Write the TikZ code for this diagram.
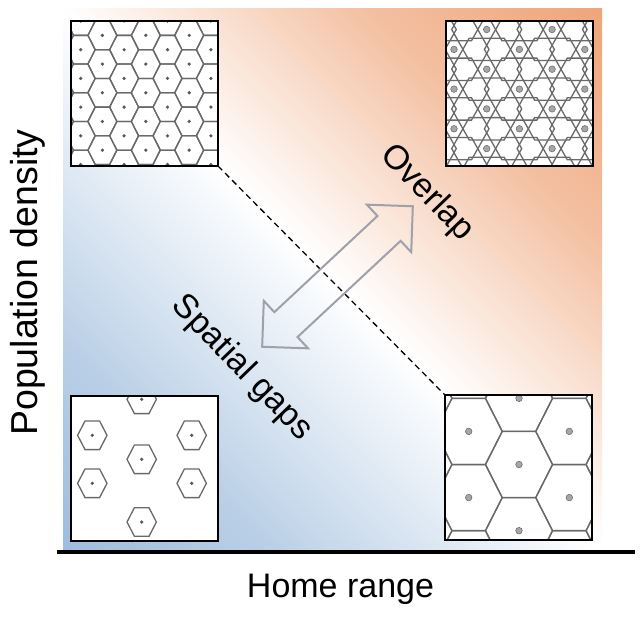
\documentclass[tikz,border=0pt]{standalone}
\usepackage{fontspec}
\setmainfont{Liberation Sans}
\usepackage{tikz}
\usetikzlibrary{shapes.arrows}

\definecolor{bgorange}{RGB}{234,140,84}
\definecolor{bgblue}{RGB}{128,168,210}
\definecolor{celline}{RGB}{105,105,105}
\definecolor{arrowgray}{RGB}{160,160,170}

\pgfdeclareverticalshading{bggrad}{100bp}{color(0bp)=(bgblue); color(28bp)=(bgblue!55!white);
	color(50bp)=(white); color(70bp)=(bgorange!55!white); color(100bp)=(bgorange)}

\begin{document}
\begin{tikzpicture}[x=1pt, y=-1pt,
		box/.style={fill=white, minimum width=147, minimum height=145, inner sep=0, outer sep=0},
		frame/.style={draw=black, line width=2.4},
		cell/.style={draw=celline, line width=1.3},
		smalldot/.style={fill=black!65},
		bigdot/.style={fill=gray!70, draw=gray!80!black, line width=0.5},
		lbl/.style={font=\fontsize{34}{40}\selectfont, inner sep=0}]
		\useasboundingbox (0,0) rectangle (640,616);
		% background gradient and axis
		\shade[shading=bggrad, shading angle=-45] (63,8) rectangle (602,550);
		\draw[line width=4.5] (57,552) -- (635,552);

		% the four panels
		\node[box] (tl) at (144.5,93.5) {};
		\node[box] (tr) at (519.5,93.5) {};
		\node[box] (bl) at (144.5,468.5) {};
		\node[box] (br) at (518.5,467.5) {};

		% high density, small range: tiling of small cells
		\begin{scope}
			\clip (tl.north west) rectangle (tl.south east);
			\begin{scope}[shift={(tl.north west)}]
				\def\R{14.47} \def\a{7.23} \def\h{14.35}
				\foreach \i in {-1,...,7}
				\foreach \j in {-1,...,5} {
					\pgfmathsetmacro\cx{9.7+21.7*\i}
					\pgfmathsetmacro\cy{28.7*\j+14.35*mod(\i+2,2)}
					\draw[cell] ({\cx+\R},\cy) -- ({\cx+\a},{\cy+\h}) -- ({\cx-\a},{\cy+\h})
						-- ({\cx-\R},\cy) -- ({\cx-\a},{\cy-\h}) -- ({\cx+\a},{\cy-\h}) -- cycle;
					\fill[smalldot] (\cx,\cy) circle (1.8);
				}
			\end{scope}
		\end{scope}

		% high density, large range: overlapping cells
		\begin{scope}
			\clip (tr.north west) rectangle (tr.south east);
			\begin{scope}[shift={(tr.north west)}]
				\def\R{35} \def\a{17.5} \def\h{31}
				\foreach \i in {-1,...,5}
				\foreach \j in {-1,...,4} {
					\pgfmathsetmacro\cx{8+32.7*\i}
					\pgfmathsetmacro\cy{28.4+39.7*\j-19.9*mod(\i+2,2)}
					\draw[cell] ({\cx+\R},\cy) -- ({\cx+\a},{\cy+\h}) -- ({\cx-\a},{\cy+\h})
						-- ({\cx-\R},\cy) -- ({\cx-\a},{\cy-\h}) -- ({\cx+\a},{\cy-\h}) -- cycle;
				}
				\foreach \i in {-1,...,5}
				\foreach \j in {-1,...,4} {
					\pgfmathsetmacro\cx{8+32.7*\i}
					\pgfmathsetmacro\cy{28.4+39.7*\j-19.9*mod(\i+2,2)}
					\draw[bigdot] (\cx,\cy) circle (3.3);
				}
			\end{scope}
		\end{scope}

		% low density, small range: cells with gaps
		\begin{scope}
			\clip (bl.north west) rectangle (bl.south east);
			\begin{scope}[shift={(bl.north west)}]
				\def\R{14.7} \def\a{7.3} \def\h{14.3}
				\foreach \cx/\cy in {70.7/3.3, 21.3/39.3, 120.7/39.3, 70.7/63.3, 21.3/87.3, 120.7/87.3, 70.7/126} {
					\draw[cell] ({\cx+\R},\cy) -- ({\cx+\a},{\cy+\h}) -- ({\cx-\a},{\cy+\h})
						-- ({\cx-\R},\cy) -- ({\cx-\a},{\cy-\h}) -- ({\cx+\a},{\cy-\h}) -- cycle;
					\fill[smalldot] (\cx,\cy) circle (1.8);
				}
			\end{scope}
		\end{scope}

		% low density, large range: tiling of large cells
		\begin{scope}
			\clip (br.north west) rectangle (br.south east);
			\begin{scope}[shift={(br.north west)}]
				\def\R{33.5} \def\a{16.75} \def\h{33}
				\foreach \i in {-2,...,2}
				\foreach \j in {-1,...,2} {
					\pgfmathsetmacro\cx{74+50.3*\i}
					\pgfmathsetmacro\cy{3.3+66.2*\j+33.1*mod(\i+2,2)}
					\draw[cell] ({\cx+\R},\cy) -- ({\cx+\a},{\cy+\h}) -- ({\cx-\a},{\cy+\h})
						-- ({\cx-\R},\cy) -- ({\cx-\a},{\cy-\h}) -- ({\cx+\a},{\cy-\h}) -- cycle;
					\draw[bigdot] (\cx,\cy) circle (3.3);
				}
			\end{scope}
		\end{scope}

		% frames on top
		\foreach \b in {tl,tr,bl,br}
			\draw[frame] (\b.north west) rectangle (\b.south east);

		% diagonal and double arrow
		\draw[line width=1.3, dash pattern=on 6 off 4] (tl.south east) -- (br.north west);
		\node[double arrow, draw=arrowgray, line width=2, minimum height=206, inner xsep=0, inner ysep=16,
			double arrow head extend=15.5, rotate=43] (range) at (337.5,276.5) {};

		% texts
		\node[lbl, rotate=-46] (overlap) at (427,193) {Overlap};
		\node[lbl, rotate=-46] (gaps) at (242,368) {Spatial gaps};
		\node[lbl, anchor=base] (xlab) at (340.5,597) {Home range};
		\node[lbl, anchor=base, rotate=90, font=\fontsize{37.5}{44}\selectfont] (ylab) at (37,282.5) {Population density};
	\end{tikzpicture}
\end{document}
